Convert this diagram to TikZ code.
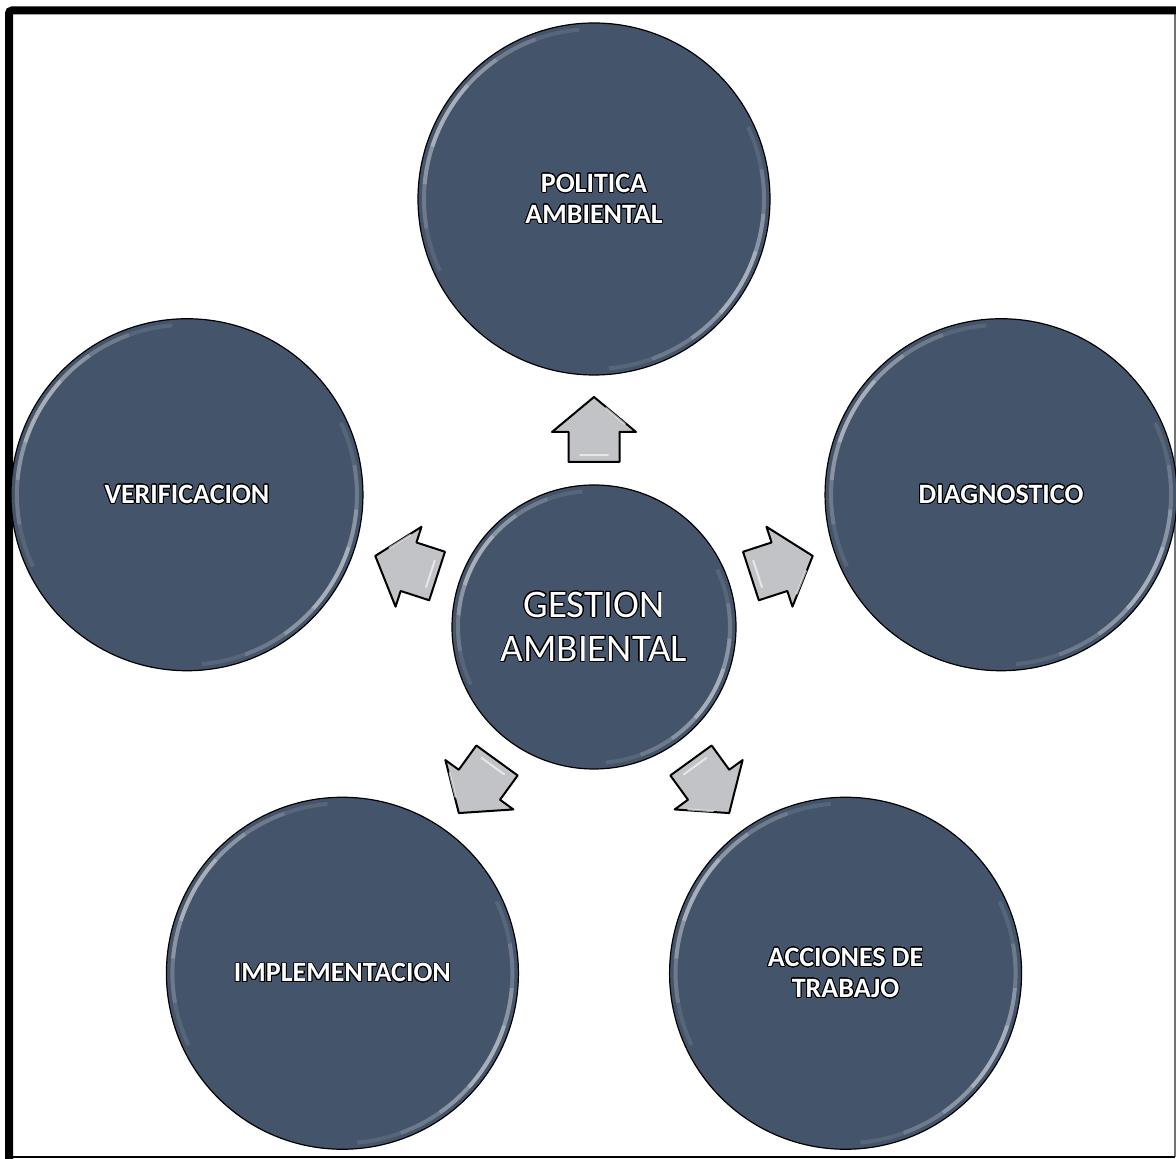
\documentclass[tikz,border=0pt]{standalone}
\usepackage{fontspec}
\setmainfont{Carlito}
\usepackage{contour}
\contourlength{0.8pt}
\contournumber{32}
\definecolor{slate}{HTML}{44546A}
\definecolor{arrowgray}{HTML}{C2C3C6}

\tikzset{
  bubble/.style={circle, draw=black, line width=1.2pt, fill=slate, text=white, align=center,
    inner sep=0pt, minimum size=352pt, font=\bfseries\fontsize{28}{31}\selectfont},
  hub/.style={bubble, minimum size=284pt, font=\fontsize{39}{44}\selectfont},
  blockarrow/.style={draw=black, line width=2pt, line join=round, fill=arrowgray},
  shine/.style={white, line cap=round, opacity=.6, line width=2pt},
  glow/.style={white, line width=4pt}
}
\newcommand{\otxt}[1]{\contour{black}{#1}}

\begin{document}
\begin{tikzpicture}[x=1pt,y=1pt]
    \useasboundingbox (0,0) rectangle (1176,1159);
    % frame
    \draw[line width=1.5pt, black!55] (1175,2) -- (1175,1148);
    \draw[line width=2pt] (9,2) -- (1175,2);
    \draw[line width=8pt, rounded corners=3pt] (9,0) -- (9,1148.5) -- (1176,1148.5);

    % hub and outer circles
    \node[hub] (gestion) at (594,532) {\otxt{GESTION}\\\otxt{AMBIENTAL}};
    \node[bubble] (politica) at ([shift={(90:428)}]gestion.center) {\otxt{POLITICA}\\\otxt{AMBIENTAL}};
    \node[bubble] (diagnostico) at ([shift={(18:428)}]gestion.center) {\otxt{DIAGNOSTICO}};
    \node[bubble] (acciones) at ([shift={(-54:428)}]gestion.center) {\otxt{ACCIONES DE}\\\otxt{TRABAJO}};
    \node[bubble] (implementacion) at ([shift={(234:428)}]gestion.center) {\otxt{IMPLEMENTACION}};
    \node[bubble] (verificacion) at ([shift={(162:428)}]gestion.center) {\otxt{VERIFICACION}};

    % bevel
    \foreach \n/\r in {gestion/142,politica/176,diagnostico/176,acciones/176,implementacion/176,verificacion/176}{
        \foreach \s/\o in {55/.10,40/.14,25/.2,12/.25}{
            \draw[glow, opacity=\o] ([shift={(150-\s:\r-6)}]\n.center) arc (150-\s:150+\s:\r-6);
            \draw[glow, opacity=\o] ([shift={(-30-\s:\r-6)}]\n.center) arc (-30-\s:-30+\s:\r-6);
        }
    }

    % block arrows
    \foreach \a in {90,18,162,-54,234}{
        \draw[blockarrow, shift={(gestion.center)}, rotate=\a]
            (165,-25.5) -- (195,-25.5) -- (195,-42) -- (230,0) -- (195,42) -- (195,25.5) -- (165,25.5) -- cycle;
        \draw[shine, shift={(gestion.center)}, rotate=\a] (172,-14) -- (172,14);
        \draw[shine, shift={(gestion.center)}, rotate=\a] (203,-31) -- (219,-12);
    }
\end{tikzpicture}
\end{document}
